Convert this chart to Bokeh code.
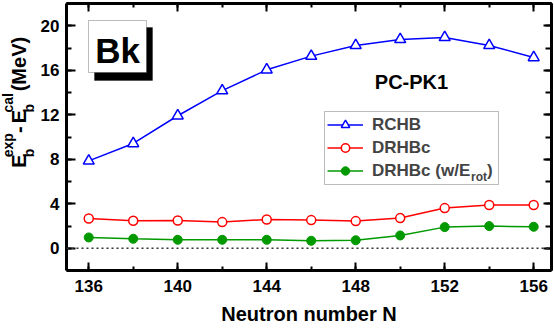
import math
from bokeh.plotting import figure
from bokeh.models import (LinearAxis, Range1d, FixedTicker, Label, BoxAnnotation,
                          Span, Legend, LegendItem)
from bokeh.layouts import row
from bokeh.core.properties import value
from bokeh.embed import file_html
from bokeh.resources import INLINE

# ---------------- data ----------------
neutrons = [136, 138, 140, 142, 144, 146, 148, 150, 152, 154, 156]
rchb = [7.85, 9.42, 11.91, 14.17, 16.04, 17.27, 18.23, 18.77, 18.95, 18.23, 17.15]
drhbc = [2.68, 2.47, 2.50, 2.35, 2.59, 2.53, 2.44, 2.71, 3.61, 3.88, 3.88]
drhbc_rot = [0.97, 0.85, 0.76, 0.76, 0.76, 0.67, 0.72, 1.15, 1.90, 1.99, 1.93]
x_major = [136, 140, 144, 148, 152, 156]
x_minor = neutrons
y_major = [0, 4, 8, 12, 16, 20]
y_minor = [-2, 0, 2, 4, 6, 8, 10, 12, 14, 16, 18, 20, 22]
x_label = "Neutron number N"
element = "Bk"
model_name = "PC-PK1"
series_names = ["RCHB", "DRHBc", "DRHBc (w/E"]

FONT = "Liberation Sans"
LW = 36           # width of the y-label strip
FL, FB = 66, 270  # frame left / bottom in canvas px


def fx(cx):
    return cx - FL


def fy(cy):
    return FB - cy


p = figure(width=554 - LW, height=333, x_range=Range1d(135, 156.8), y_range=Range1d(-2, 22),
           output_backend="svg", toolbar_location=None,
           min_border_left=FL - LW, min_border_right=3, min_border_top=3, min_border_bottom=63)
p.xgrid.visible = False
p.ygrid.visible = False
p.outline_line_color = None
p.background_fill_color = "white"
p.border_fill_color = "white"


def style_axis(ax, major, minor, tin, tmin):
    ax.ticker = FixedTicker(ticks=major, minor_ticks=minor)
    ax.axis_line_width = 3
    ax.axis_line_color = "black"
    ax.major_tick_in = tin
    ax.major_tick_out = 0
    ax.minor_tick_in = tmin
    ax.minor_tick_out = 0
    ax.major_tick_line_width = 2
    ax.minor_tick_line_width = 2
    ax.major_tick_line_color = "black"
    ax.minor_tick_line_color = "black"
    ax.major_label_text_font = FONT
    ax.major_label_text_font_style = "bold"
    ax.major_label_text_font_size = "17px"
    ax.major_label_text_color = "black"


style_axis(p.xaxis[0], x_major, x_minor, 8, 4)
p.xaxis[0].major_label_standoff = 9
p.xaxis[0].axis_label = x_label
p.xaxis[0].axis_label_text_font = FONT
p.xaxis[0].axis_label_text_font_style = "bold"
p.xaxis[0].axis_label_text_font_size = "20px"
p.xaxis[0].axis_label_text_color = "black"
p.xaxis[0].axis_label_standoff = 8

style_axis(p.yaxis[0], y_major, y_minor, 9, 5)
p.yaxis[0].major_label_standoff = 7


def tick_only_axis(ticks, length):
    ax = LinearAxis(ticker=FixedTicker(ticks=[], minor_ticks=ticks))
    ax.axis_line_width = 3
    ax.axis_line_color = "black"
    ax.minor_tick_in = length
    ax.minor_tick_out = 0
    ax.minor_tick_line_width = 2
    ax.minor_tick_line_color = "black"
    ax.major_tick_in = 0
    ax.major_tick_out = 0
    ax.major_label_standoff = 0
    return ax


p.add_layout(tick_only_axis(x_minor, 4), "above")
p.add_layout(tick_only_axis(x_major, 8), "above")
p.add_layout(tick_only_axis(y_minor, 6), "right")
p.add_layout(tick_only_axis(y_major, 8), "right")

# zero line
p.add_layout(Span(location=0, dimension="width", line_color="#333333",
                  line_width=1.5, line_dash="2 3"))

# Bk box with shadow
p.add_layout(BoxAnnotation(left=fx(94), right=fx(152), top=fy(27), bottom=fy(80),
                           left_units="screen", right_units="screen",
                           top_units="screen", bottom_units="screen",
                           fill_color="black", fill_alpha=1, line_color="black"))
p.add_layout(BoxAnnotation(left=fx(88), right=fx(146), top=fy(20), bottom=fy(72),
                           left_units="screen", right_units="screen",
                           top_units="screen", bottom_units="screen",
                           fill_color="white", fill_alpha=1, line_color="#222222",
                           line_width=1))
p.add_layout(Label(x=fx(117), y=fy(50), x_units="screen", y_units="screen",
                   text=element, text_font=FONT, text_font_style="bold",
                   text_font_size="35px", text_align="center",
                   text_baseline="middle", text_color="black"))

p.add_layout(Label(x=fx(411), y=fy(81), x_units="screen", y_units="screen",
                   text=model_name, text_font=FONT, text_font_style="bold",
                   text_font_size="20px", text_align="center",
                   text_baseline="middle", text_color="black"))

# legend frame
p.add_layout(BoxAnnotation(left=fx(324), right=fx(498), top=fy(111), bottom=fy(184),
                           left_units="screen", right_units="screen",
                           top_units="screen", bottom_units="screen",
                           fill_color="white", fill_alpha=1, line_color="#222222",
                           line_width=1))

blue, red, green = "#0000ff", "#ff0000", "#009900"
l1 = p.line(neutrons, rchb, line_color=blue, line_width=1.5)
s1 = p.scatter(neutrons, rchb, marker="triangle", size=11, line_color=blue,
               fill_color="white", line_width=1.5)
l2 = p.line(neutrons, drhbc, line_color=red, line_width=1.5)
s2 = p.scatter(neutrons, drhbc, marker="circle", size=9, line_color=red,
               fill_color="white", line_width=1.5)
l3 = p.line(neutrons, drhbc_rot, line_color=green, line_width=1.5)
s3 = p.scatter(neutrons, drhbc_rot, marker="circle", size=9, line_color=green,
               fill_color=green, line_width=1)

legend = Legend(items=[LegendItem(label=series_names[0], renderers=[l1, s1]),
                       LegendItem(label=series_names[1], renderers=[l2, s2]),
                       LegendItem(label=series_names[2], renderers=[l3, s3])],
                location=(fx(324), fy(184)), border_line_alpha=0,
                background_fill_alpha=0, label_text_font=FONT,
                label_text_font_style="bold", label_text_font_size="17px",
                glyph_width=36, glyph_height=21, label_height=21,
                label_standoff=9, padding=3, spacing=2, margin=0)
p.add_layout(legend, "center")

p.add_layout(Label(x=fx(470.5), y=fy(176), x_units="screen", y_units="screen",
                   text="rot", text_font=FONT, text_font_style="bold",
                   text_font_size="12px", text_baseline="middle"))
p.add_layout(Label(x=fx(486.5), y=fy(170), x_units="screen", y_units="screen",
                   text=")", text_font=FONT, text_font_style="bold",
                   text_font_size="17px", text_baseline="middle"))

# ---------------- y-axis label strip ----------------
q = figure(width=LW, height=333, x_range=Range1d(0, LW), y_range=Range1d(0, 333),
           output_backend="svg", toolbar_location=None,
           x_axis_location=None, y_axis_location=None,
           min_border_left=0, min_border_right=0, min_border_top=0, min_border_bottom=0)
q.xgrid.visible = False
q.ygrid.visible = False
q.outline_line_color = None
q.border_fill_color = "white"
q.background_fill_color = "white"

mid_x, sup_x, sub_x = 18.1, 7.9, 28.1
big_txt = ["E", "-", "E", "(MeV)"]
big_x = [mid_x, mid_x, mid_x, mid_x]
big_y = [333 - 205, 333 - 161.5, 333 - 149.2, 333 - 109.5]
small_txt = ["exp", "b", "cal", "b"]
small_x = [sup_x, sub_x, sup_x, sub_x]
small_y = [333 - 191.7, 333 - 191.7, 333 - 135.9, 333 - 135.9]
q.text(x=big_x, y=big_y, text=big_txt, angle=math.pi / 2,
       text_font=value(FONT), text_font_style="bold", text_font_size="20px",
       text_align="left", text_baseline="middle", text_color="black")
q.text(x=small_x, y=small_y, text=small_txt, angle=math.pi / 2,
       text_font=value(FONT), text_font_style="bold", text_font_size="14px",
       text_align="left", text_baseline="middle", text_color="black")

layout = row(q, p)
open("out.html", "w").write(file_html(layout, INLINE))
